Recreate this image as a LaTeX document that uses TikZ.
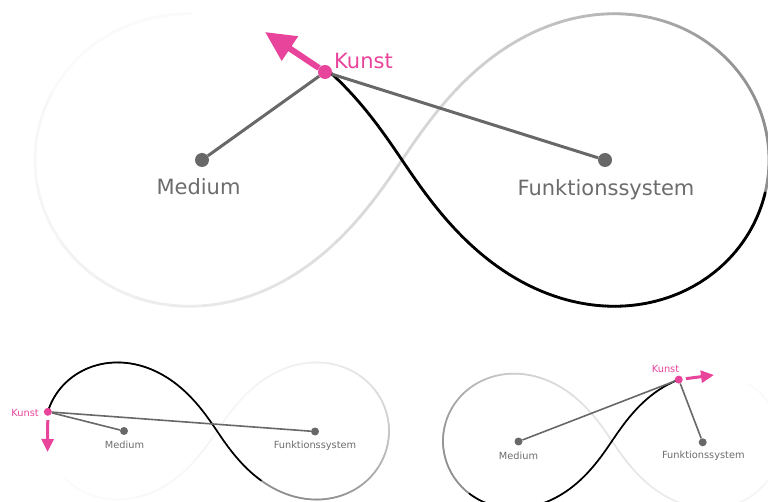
\documentclass[tikz,border=0pt]{standalone}
\usepackage{fontspec}
\setmainfont{DejaVu Sans}
\usetikzlibrary{arrows.meta}
\definecolor{kunstpink}{RGB}{233,68,155}
\definecolor{nodegray}{RGB}{104,104,104}
\definecolor{textgray}{RGB}{108,108,108}

% point of the figure-eight at parameter u (0..360); centre cx,cy ; half width a
\newcommand\lemPt[4]{%
  \edef\lemU{\fpeval{(#1+720) - 360*trunc((#1+720)/360)}}%
  \edef\lemS{\fpeval{\lemU<180 ? -1 : 1}}%
  \edef\lemPh{\fpeval{56-(\lemU - 180*trunc(\lemU/180))*112/180}}%
  \edef\lemR{\fpeval{#4*(max(cosd(\lemPh*90/56),0))^0.62}}%
  \xdef\lpx{\fpeval{round(#2+\lemS*\lemR*cosd(\lemPh),3)}}%
  \xdef\lpy{\fpeval{round(#3-\lemR*sind(\lemPh),3)}}%
}
% trail: #1 cx #2 cy #3 a #4 head #5 black length #6 total length #7 line width
\newcommand\lemTrail[7]{%
  \lemPt{#4-#6}{#1}{#2}{#3}%
  \global\let\lemPrevX\lpx \global\let\lemPrevY\lpy
  \edef\lemN{\fpeval{trunc(2*#6)}}%
  \foreach \lemI in {1,...,\lemN}{%
    \edef\lemD{\fpeval{#6-\lemI/2}}%
    \lemPt{#4-\lemD}{#1}{#2}{#3}%
    \edef\lemK{\fpeval{\lemD<#5 ? 100 : round(44/(1+((max((\lemD-#5)/(#6-#5),0))/0.33)^3))}}%
    \draw[line width=#7, line cap=round, black!\lemK!white] (\lemPrevX,\lemPrevY) -- (\lpx,\lpy);
    \global\let\lemPrevX\lpx \global\let\lemPrevY\lpy
  }%
}

\tikzset{
  bigdot/.style={circle, inner sep=0pt, minimum size=14pt, fill=nodegray},
  smalldot/.style={circle, inner sep=0pt, minimum size=8pt, fill=nodegray},
  bigconn/.style={draw=nodegray, line width=3pt},
  smallconn/.style={draw=nodegray, line width=1.6pt},
  biglbl/.style={text=textgray, font=\fontsize{21}{25}\selectfont, inner sep=0pt},
  smalllbl/.style={text=textgray, font=\fontsize{9.8}{12}\selectfont, inner sep=0pt},
  bigarrow/.style={draw=kunstpink, line width=6pt, -{Triangle[length=30pt,width=28pt]}},
  smallarrow/.style={draw=kunstpink, line width=3pt, -{Triangle[length=13pt,width=12pt]}},
}

\begin{document}
\begin{tikzpicture}[x=1pt,y=-1pt]
\useasboundingbox (0,0) rectangle (768,502);
\clip (0,0) rectangle (768,502);

% ---------- top figure ----------
\lemTrail{402}{160}{367}{9.3}{91}{335}{2.8}
\node[bigdot] (medT) at (202,160) {};
\node[bigdot] (funT) at (605,160) {};
\node[bigdot, fill=kunstpink] (kunT) at (325,72) {};
\draw[bigconn] (kunT) -- (medT);
\draw[bigconn] (kunT) -- (funT);
\coordinate (tipT) at (265,32);
\draw[bigarrow] (kunT) -- (tipT);
\node[biglbl, anchor=base] (medTl) at (198.5,195) {Medium};
\node[biglbl, anchor=base] (funTl) at (606,196) {Funktionssystem};
\node[biglbl, anchor=base west, text=kunstpink] (kunTl) at (334,68.5) {Kunst};

% ---------- bottom left figure ----------
\lemTrail{217}{431}{172}{79.6}{92}{322}{1.7}
\lemPt{79.6}{217}{431}{172}
\coordinate (kLpos) at (\lpx,\lpy);
\node[smalldot] (medL) at (124,431) {};
\node[smalldot] (funL) at (315,431.5) {};
\node[smalldot, fill=kunstpink] (kunL) at (kLpos) {};
\draw[smallconn] (kunL) -- (medL);
\draw[smallconn] (kunL) -- (funL);
\coordinate (tipL) at (47.5,452);
\draw[smallarrow, shorten <=4pt] (kunL) -- (tipL);
\node[smalllbl, anchor=base] (medLl) at (124.5,448.3) {Medium};
\node[smalllbl, anchor=base] (funLl) at (315,448.3) {Funktionssystem};
\node[smalllbl, anchor=base east, text=kunstpink] (kunLl) at (39,416) {Kunst};

% ---------- bottom right figure ----------
\lemTrail{612}{441}{169}{201.5}{79}{328}{1.7}
\lemPt{201.5}{612}{441}{169}
\coordinate (kRpos) at (\lpx,\lpy);
\node[smalldot] (medR) at (518.5,441.5) {};
\node[smalldot] (funR) at (702.7,442.3) {};
\node[smalldot, fill=kunstpink] (kunR) at (kRpos) {};
\draw[smallconn] (kunR) -- (medR);
\draw[smallconn] (kunR) -- (funR);
\coordinate (tipR) at (714,375);
\draw[smallarrow, shorten <=3pt] (kunR) -- (tipR);
\node[smalllbl, anchor=base] (medRl) at (518.5,459.3) {Medium};
\node[smalllbl, anchor=base] (funRl) at (703.3,458.3) {Funktionssystem};
\node[smalllbl, anchor=base, text=kunstpink] (kunRl) at (665.5,372.3) {Kunst};
\end{tikzpicture}
\end{document}
